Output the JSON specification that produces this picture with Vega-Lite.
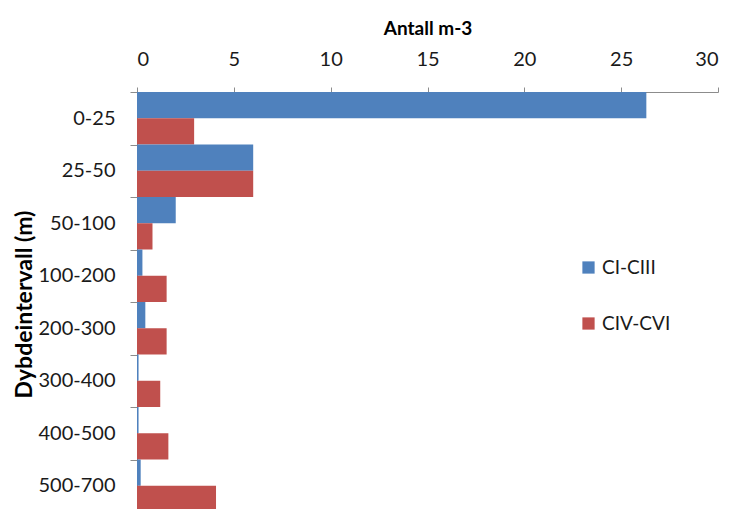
{
  "$schema": "https://vega.github.io/schema/vega-lite/v6.json",
  "autosize": "none",
  "width": 581,
  "height": 417,
  "padding": {"left": 137, "top": 92, "right": 15, "bottom": 0},
  "background": "white",
  "config": {
    "view": {"stroke": null},
    "font": "Lato",
    "axis": {"grid": false, "domainColor": "#8c8c8c", "tickColor": "#8c8c8c", "labelColor": "#1a1a1a", "titleColor": "#000"}
  },
  "data": {
    "values": [
      {"depth": "0-25", "stage": "CI-CIII", "value": 26.3},
      {"depth": "0-25", "stage": "CIV-CVI", "value": 2.95},
      {"depth": "25-50", "stage": "CI-CIII", "value": 6.0},
      {"depth": "25-50", "stage": "CIV-CVI", "value": 6.0},
      {"depth": "50-100", "stage": "CI-CIII", "value": 2.0},
      {"depth": "50-100", "stage": "CIV-CVI", "value": 0.8},
      {"depth": "100-200", "stage": "CI-CIII", "value": 0.28},
      {"depth": "100-200", "stage": "CIV-CVI", "value": 1.53},
      {"depth": "200-300", "stage": "CI-CIII", "value": 0.43},
      {"depth": "200-300", "stage": "CIV-CVI", "value": 1.53},
      {"depth": "300-400", "stage": "CI-CIII", "value": 0.08},
      {"depth": "300-400", "stage": "CIV-CVI", "value": 1.2},
      {"depth": "400-500", "stage": "CI-CIII", "value": 0.08},
      {"depth": "400-500", "stage": "CIV-CVI", "value": 1.62},
      {"depth": "500-700", "stage": "CI-CIII", "value": 0.19},
      {"depth": "500-700", "stage": "CIV-CVI", "value": 4.08}
    ]
  },
  "mark": {"type": "bar"},
  "encoding": {
    "y": {
      "field": "depth",
      "type": "nominal",
      "sort": ["0-25", "25-50", "50-100", "100-200", "200-300", "300-400", "400-500", "500-700"],
      "scale": {"paddingInner": 0, "paddingOuter": 0, "range": [0, 420]},
      "axis": {
        "title": "Dybdeintervall (m)",
        "titleFontSize": 23,
        "titleFontWeight": "bold",
        "titleX": -113,
        "titleY": 212,
        "titleAngle": -90,
        "titleAlign": "center",
        "titleBaseline": "middle",
        "labelFontSize": 20,
        "labelPadding": 15,
        "tickSize": 7,
        "tickBand": "extent"
      }
    },
    "yOffset": {
      "field": "stage",
      "type": "nominal",
      "sort": ["CI-CIII", "CIV-CVI"],
      "scale": {"paddingInner": 0, "paddingOuter": 0}
    },
    "x": {
      "field": "value",
      "type": "quantitative",
      "scale": {"domain": [0, 30], "nice": false},
      "axis": {
        "orient": "top",
        "title": "Antall m-3",
        "titleFontSize": 19,
        "titleFontWeight": "bold",
        "titleY": -58,
        "titleBaseline": "alphabetic",
        "values": [0, 5, 10, 15, 20, 25, 30],
        "labelFontSize": 20,
        "labelPadding": 18,
        "tickSize": 5
      }
    },
    "color": {
      "field": "stage",
      "type": "nominal",
      "sort": ["CI-CIII", "CIV-CVI"],
      "scale": {"domain": ["CI-CIII", "CIV-CVI"], "range": ["#4f81bd", "#c0504d"]},
      "legend": {
        "title": null,
        "orient": "none",
        "legendX": 442,
        "legendY": 166,
        "symbolType": "square",
        "symbolSize": 150,
        "symbolStrokeWidth": 0,
        "labelFontSize": 19,
        "labelColor": "#1a1a1a",
        "rowPadding": 36,
        "labelOffset": 4
      }
    }
  }
}
